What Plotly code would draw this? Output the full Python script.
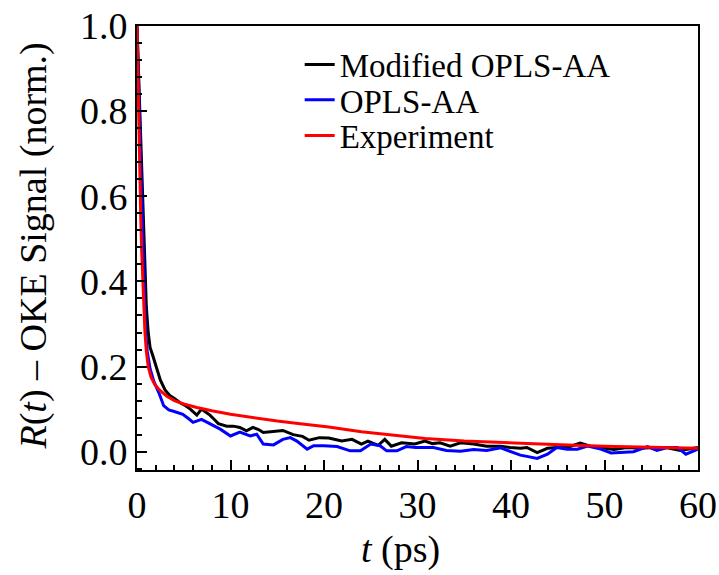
import plotly.graph_objects as go

# ---- data ----
t_mod = [0, 0.15, 0.3, 0.45, 0.6, 0.8, 1.0, 1.2, 1.4, 1.7, 2.1, 2.5, 3.0, 3.5, 4.0, 4.6,
         5.2, 5.7, 6.4, 6.9, 7.3, 7.8, 8.3, 8.7, 9.6, 10.3, 11.0, 11.7, 12.4, 13.0, 13.5,
         14.6, 15.6, 16.7, 17.7, 18.4, 19.5, 20.5, 21.9, 23.0, 24.0, 24.7, 25.8, 26.5,
         27.2, 28.3, 29.7, 30.8, 31.6, 32.4, 33.5, 34.6, 36.0, 37.4, 38.9, 39.9, 41.0,
         41.7, 42.8, 43.9, 44.9, 46.0, 47.4, 48.5, 49.6, 51.0, 52.4, 53.8, 55.3, 56.7,
         58.1, 58.9, 60.0]
r_mod = [1.0, 0.9, 0.78, 0.66, 0.56, 0.43, 0.34, 0.28, 0.245, 0.225, 0.195, 0.168, 0.145,
         0.132, 0.125, 0.115, 0.108, 0.100, 0.086, 0.100, 0.094, 0.086, 0.075, 0.066, 0.060,
         0.060, 0.057, 0.049, 0.057, 0.052, 0.045, 0.047, 0.050, 0.040, 0.036, 0.027, 0.033,
         0.032, 0.025, 0.029, 0.018, 0.025, 0.015, 0.029, 0.013, 0.021, 0.018, 0.025, 0.019,
         0.021, 0.013, 0.021, 0.018, 0.013, 0.013, 0.010, 0.008, 0.010, -0.002, 0.008, 0.010,
         0.010, 0.020, 0.013, 0.010, 0.005, 0.010, 0.008, 0.010, 0.009, 0.003, 0.006, 0.010]

t_opls = [0, 0.15, 0.3, 0.45, 0.6, 0.75, 0.9, 1.1, 1.4, 1.8, 2.4, 2.85, 3.4, 3.9, 4.9, 5.5,
          6.0, 6.9, 7.8, 8.9, 10.0, 11.0, 12.1, 12.8, 13.5, 14.6, 15.6, 16.4, 17.1, 18.2,
          18.9, 20.0, 21.4, 22.8, 23.9, 25.0, 26.0, 26.7, 27.8, 28.8, 29.8, 30.8, 31.7,
          33.1, 34.6, 36.0, 37.4, 38.9, 39.9, 41.0, 41.7, 42.8, 43.9, 44.9, 46.0, 47.1,
          48.2, 49.6, 50.7, 51.7, 53.1, 54.6, 55.6, 56.7, 57.8, 58.7, 60.0]
r_opls = [1.0, 0.88, 0.74, 0.6, 0.47, 0.37, 0.29, 0.235, 0.195, 0.165, 0.135, 0.108, 0.098,
          0.095, 0.088, 0.078, 0.069, 0.076, 0.065, 0.053, 0.037, 0.046, 0.037, 0.041, 0.018,
          0.016, 0.029, 0.033, 0.025, 0.006, 0.014, 0.014, 0.012, 0.002, 0.002, 0.018, 0.014,
          0.002, 0.002, 0.012, 0.010, 0.010, 0.010, 0.003, 0.001, 0.005, 0.003, 0.009, 0.001,
          -0.008, -0.011, -0.016, -0.006, 0.010, 0.006, 0.006, 0.013, 0.006, -0.003, -0.002,
          0.000, 0.012, 0.003, 0.010, 0.010, -0.006, 0.006]

t_exp = [0, 0.1, 0.2, 0.3, 0.4, 0.5, 0.6, 0.7, 0.85, 1.0, 1.2, 1.5, 1.9, 2.4, 3.2, 4.0, 5.0,
         6.4, 8.0, 10.0, 12.0, 13.5, 15.0, 17.0, 20.5, 24.0, 27.5, 30.8, 35.0, 40.0, 44.6,
         50.0, 55.0, 60.0]
r_exp = [1.0, 0.86, 0.74, 0.64, 0.55, 0.47, 0.40, 0.34, 0.28, 0.235, 0.2, 0.175, 0.158,
         0.145, 0.13, 0.12, 0.112, 0.104, 0.096, 0.088, 0.081, 0.076, 0.072, 0.067, 0.058,
         0.047, 0.038, 0.031, 0.025, 0.020, 0.017, 0.013, 0.010, 0.008]

names = ["Modified OPLS-AA", "OPLS-AA", "Experiment"]
colors = ["#000000", "#0000ff", "#ff0000"]
x_ticks = [0, 10, 20, 30, 40, 50, 60]
y_ticks = [0.0, 0.2, 0.4, 0.6, 0.8, 1.0]
x_title = "<i>t</i> (ps)"
y_title = "<i>R</i>(<i>t</i>) \u2013 OKE Signal (norm.)"

FONT = "Liberation Serif, Times New Roman, serif"

fig = go.Figure()
series = [(t_mod, r_mod), (t_opls, r_opls), (t_exp, r_exp)]
legends = ["legend", "legend2", "legend3"]
for (tx, ry), nm, col, lg in zip(series, names, colors, legends):
    fig.add_trace(go.Scatter(x=tx, y=ry, mode="lines", name=nm, showlegend=True,
                             line=dict(color=col, width=3), legend=lg))

leg_common = dict(font=dict(family=FONT, size=33, color="black"),
                  bgcolor="rgba(0,0,0,0)", xanchor="left", yanchor="middle",
                  itemwidth=30, borderwidth=0, visible=True)
fig.update_layout(
    showlegend=True,
    legend=dict(x=0.29, y=0.913, **leg_common),
    legend2=dict(x=0.29, y=0.834, **leg_common),
    legend3=dict(x=0.29, y=0.753, **leg_common),
)

axis_common = dict(
    showline=True, linecolor="black", linewidth=2, mirror=True,
    ticks="inside", ticklen=10, tickwidth=2, tickcolor="black",
    showgrid=False, zeroline=False, ticklabeloverflow="allow",
    tickfont=dict(family=FONT, size=38, color="black"),
)
fig.update_xaxes(range=[0, 60], tickvals=x_ticks, ticktext=[str(v) for v in x_ticks],
                 minor=dict(dtick=2, ticks="inside", ticklen=5, tickwidth=1.5, tickcolor="black"),
                 **axis_common)
fig.update_yaxes(range=[-0.043, 1.0], tickvals=y_ticks, ticktext=[f"{v:.1f}" for v in y_ticks],
                 minor=dict(dtick=0.04, tick0=0, ticks="inside", ticklen=5, tickwidth=1.5,
                            tickcolor="black"),
                 **axis_common)

# axis titles as annotations for exact placement
fig.add_annotation(text=x_title, xref="paper", yref="paper", x=0.47, y=-0.18,
                   xanchor="center", yanchor="middle", showarrow=False,
                   font=dict(family=FONT, size=38, color="black"))
fig.add_annotation(text=y_title, xref="paper", yref="paper", x=-0.184, y=0.505,
                   xanchor="center", yanchor="middle", showarrow=False, textangle=-90,
                   font=dict(family=FONT, size=38, color="black"))

fig.update_layout(
    width=719, height=575,
    margin=dict(l=137, r=21, t=26, b=105, autoexpand=False),
    plot_bgcolor="white", paper_bgcolor="white",
    font=dict(family=FONT, color="black"),
)

# remove the default 8px page margin so the figure fills the window exactly
fig.write_html("out.html",
               config={"displayModeBar": False},
               post_script="document.body.style.margin='0';document.body.style.overflow='hidden';")
